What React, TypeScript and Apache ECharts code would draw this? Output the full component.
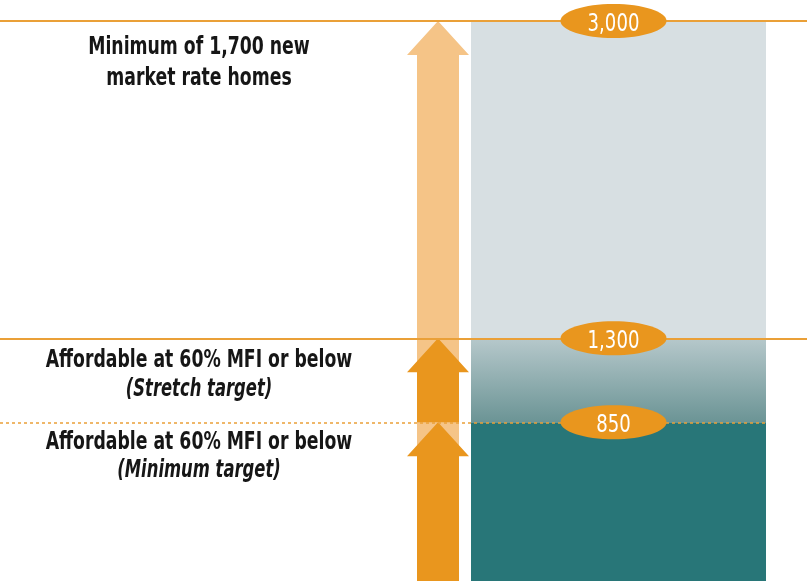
import React, { useEffect, useRef } from "react";
import * as echarts from "echarts";

const categories = ["New homes"];
const minimumTarget = [850];
const stretchTarget = [450]; // 850 -> 1,300
const marketRate = [1700]; // 1,300 -> 3,000
const levelValues = [3000, 1300, 850];
const levelLabels = ["3,000", "1,300", "850"];
// [start, end, kind] kind 0 = light overall arrow, 1 = dark target arrow
const arrowSegments = [
  [0, 3000, 0],
  [850, 1300, 1],
  [0, 850, 1],
];
const noteLines = [
  { text: "Minimum of 1,700 new", italic: false },
  { text: "market rate homes", italic: false },
  { text: "Affordable at 60% MFI or below", italic: false },
  { text: "(Stretch target)", italic: true },
  { text: "Affordable at 60% MFI or below", italic: false },
  { text: "(Minimum target)", italic: true },
];

const FONT = "'DejaVu Sans Condensed', 'DejaVu Sans', sans-serif";
const ORANGE = "#e9961e";
const LIGHT_ORANGE = "#f5c487";
const LINE_ORANGE = "#eaa038";

export default function App() {
  const ref = useRef<HTMLDivElement>(null);
  useEffect(() => {
    if (!ref.current) return;
    const chart = echarts.init(ref.current, null, { renderer: "svg" });
    const yAx = (gi: number) => ({ type: "value", gridIndex: gi, min: 0, max: 3000, show: false });
    const noteY = [46, 77, 359, 388, 441, 469];
    chart.setOption({
      animation: false,
      grid: [
        { left: 471, right: 41, top: 21, bottom: 1 },
        { left: 0, right: 0, top: 21, bottom: 1 },
        { left: 0, right: 41, top: 21, bottom: 1 },
        { left: 407, width: 62, top: 21, bottom: 1 },
      ],
      xAxis: [
        { type: "category", gridIndex: 0, data: categories, show: false },
        { type: "value", gridIndex: 1, min: 0, max: 1, show: false },
        { type: "value", gridIndex: 2, min: 0, max: 1, show: false },
        { type: "value", gridIndex: 3, min: 0, max: 1, show: false },
      ],
      yAxis: [yAx(0), yAx(1), yAx(2), yAx(3)],
      series: [
        {
          type: "bar", xAxisIndex: 0, yAxisIndex: 0, stack: "t", barWidth: "100%", z: 2,
          data: minimumTarget, itemStyle: { color: "#287678" }, silent: true,
        },
        {
          type: "bar", xAxisIndex: 0, yAxisIndex: 0, stack: "t", barWidth: "100%", z: 2,
          data: stretchTarget, silent: true,
          itemStyle: {
            color: new echarts.graphic.LinearGradient(0, 0, 0, 1, [
              { offset: 0, color: "#b6c8cb" },
              { offset: 1, color: "#6b9495" },
            ]),
          },
        },
        {
          type: "bar", xAxisIndex: 0, yAxisIndex: 0, stack: "t", barWidth: "100%", z: 2,
          data: marketRate, itemStyle: { color: "#d7dfe2" }, silent: true,
        },
        {
          type: "custom", xAxisIndex: 3, yAxisIndex: 3, z: 3, silent: true,
          data: arrowSegments,
          encode: { y: [0, 1] },
          renderItem: (params: any, api: any) => {
            const start = api.value(0);
            const end = api.value(1);
            const kind = api.value(2);
            const tip = api.coord([0.5, end]);
            const base = api.coord([0.5, start]);
            const cx = tip[0];
            const ty = tip[1];
            const hh = 34, hw = 31, sw = 21;
            return {
              type: "polygon",
              shape: {
                points: [
                  [cx, ty], [cx + hw, ty + hh], [cx + sw, ty + hh], [cx + sw, base[1]],
                  [cx - sw, base[1]], [cx - sw, ty + hh], [cx - hw, ty + hh],
                ],
              },
              style: { fill: kind === 0 ? LIGHT_ORANGE : ORANGE },
            };
          },
        },
        {
          type: "line", xAxisIndex: 1, yAxisIndex: 1, data: [], z: 5, silent: true,
          markLine: {
            silent: true, symbol: "none", label: { show: false },
            lineStyle: { color: LINE_ORANGE, width: 2, type: "solid" },
            data: [{ yAxis: levelValues[0] }, { yAxis: levelValues[1] }],
          },
        },
        {
          type: "line", xAxisIndex: 2, yAxisIndex: 2, data: [], z: 5, silent: true,
          markLine: {
            silent: true, symbol: "none", label: { show: false },
            lineStyle: { color: LINE_ORANGE, width: 1.5, type: [3, 3] },
            data: [{ yAxis: levelValues[2] }],
          },
        },
        {
          type: "custom", xAxisIndex: 0, yAxisIndex: 0, z: 8, silent: true,
          data: levelValues.map((v, i) => [0, v, i]),
          encode: { x: 0, y: 1 },
          renderItem: (params: any, api: any) => {
            const p = api.coord([api.value(0), api.value(1)]);
            const idx = api.value(2);
            const cx = p[0] - 5;
            const cy = p[1];
            return {
              type: "group",
              children: [
                { type: "ellipse", shape: { cx, cy, rx: 53, ry: 17 }, style: { fill: ORANGE } },
                {
                  type: "text", x: cx, y: cy + 1, scaleX: 0.84,
                  style: {
                    text: levelLabels[idx], fill: "#ffffff", fontFamily: FONT, fontSize: 24,
                    align: "center", verticalAlign: "middle",
                  },
                },
              ],
            };
          },
        },
      ],
      graphic: noteLines.map((l, i) => ({
        type: "text", x: 199, y: noteY[i], z: 10, silent: true, scaleX: l.italic ? 0.76 : 0.8,
        style: {
          text: l.text, fill: "#161616", fontFamily: FONT, fontSize: 24, fontWeight: "bold",
          fontStyle: l.italic ? "italic" : "normal", textAlign: "center", textVerticalAlign: "middle",
        },
      })),
    });
    return () => chart.dispose();
  }, []);
  return <div ref={ref} style={{ position: "fixed", left: 0, top: 0, width: 807, height: 582 }} />;
}
